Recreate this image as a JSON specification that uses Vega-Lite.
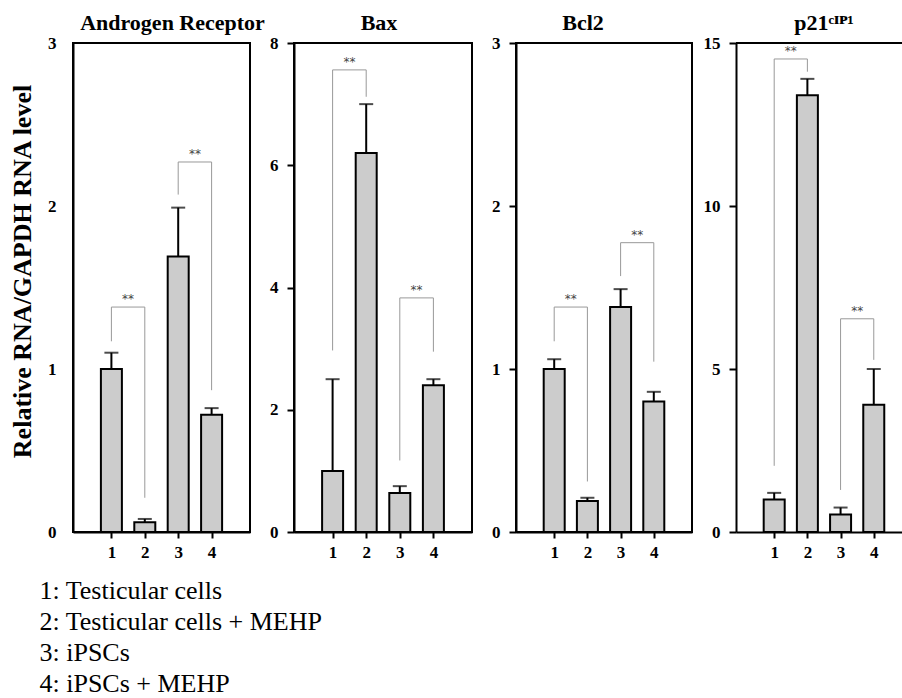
{
  "$schema": "https://vega.github.io/schema/vega-lite/v6.json",
  "background": "white",
  "padding": {"left": 8, "top": 11, "right": 0, "bottom": 0},
  "bounds": "flush",
  "spacing": 44,
  "title": {
    "text": ["1: Testicular cells", "2: Testicular cells + MEHP", "3: iPSCs", "4: iPSCs + MEHP"],
    "orient": "bottom",
    "anchor": "start",
    "font": "Liberation Serif",
    "fontSize": 26,
    "fontWeight": "normal",
    "lineHeight": 31,
    "offset": 17,
    "dx": 31,
    "color": "black"
  },
  "datasets": {
    "bars": [
      {"panel": "AR", "g": 1, "value": 1.0, "upper": 1.10},
      {"panel": "AR", "g": 2, "value": 0.06, "upper": 0.08},
      {"panel": "AR", "g": 3, "value": 1.69, "upper": 1.99},
      {"panel": "AR", "g": 4, "value": 0.72, "upper": 0.76},
      {"panel": "Bax", "g": 1, "value": 1.0, "upper": 2.5},
      {"panel": "Bax", "g": 2, "value": 6.2, "upper": 7.0},
      {"panel": "Bax", "g": 3, "value": 0.64, "upper": 0.75},
      {"panel": "Bax", "g": 4, "value": 2.4, "upper": 2.5},
      {"panel": "Bcl2", "g": 1, "value": 1.0, "upper": 1.06},
      {"panel": "Bcl2", "g": 2, "value": 0.19, "upper": 0.21},
      {"panel": "Bcl2", "g": 3, "value": 1.38, "upper": 1.49},
      {"panel": "Bcl2", "g": 4, "value": 0.80, "upper": 0.86},
      {"panel": "p21", "g": 1, "value": 1.0, "upper": 1.2},
      {"panel": "p21", "g": 2, "value": 13.4, "upper": 13.9},
      {"panel": "p21", "g": 3, "value": 0.54, "upper": 0.75},
      {"panel": "p21", "g": 4, "value": 3.9, "upper": 5.0}
    ],
    "sig": [
      {"panel": "AR", "g1": 1, "g2": 2, "mid": 1.5, "top": 1.38, "lowL": 1.17, "lowR": 0.21, "label": "**"},
      {"panel": "AR", "g1": 3, "g2": 4, "mid": 3.5, "top": 2.27, "lowL": 2.07, "lowR": 0.87, "label": "**"},
      {"panel": "Bax", "g1": 1, "g2": 2, "mid": 1.5, "top": 7.56, "lowL": 2.97, "lowR": 7.12, "label": "**"},
      {"panel": "Bax", "g1": 3, "g2": 4, "mid": 3.5, "top": 3.83, "lowL": 1.17, "lowR": 2.95, "label": "**"},
      {"panel": "Bcl2", "g1": 1, "g2": 2, "mid": 1.5, "top": 1.38, "lowL": 1.17, "lowR": 0.31, "label": "**"},
      {"panel": "Bcl2", "g1": 3, "g2": 4, "mid": 3.5, "top": 1.775, "lowL": 1.57, "lowR": 1.045, "label": "**"},
      {"panel": "p21", "g1": 1, "g2": 2, "mid": 1.5, "top": 14.51, "lowL": 2.03, "lowR": 14.12, "label": "**"},
      {"panel": "p21", "g1": 3, "g2": 4, "mid": 3.5, "top": 6.54, "lowL": 1.29, "lowR": 5.28, "label": "**"}
    ]
  },
  "hconcat": [
    {
      "width": 177, "height": 489,
      "title": {"text": "Androgen Receptor", "dx": 11, "offset": -1},
      "layer": [
        {
          "data": {"name": "bars"},
          "transform": [{"filter": "datum.panel === 'AR'"}],
          "layer": [
            {"mark": {"type": "bar", "width": 21, "fill": "#cccccc", "stroke": "black", "strokeWidth": 2},
             "encoding": {
               "x": {"field": "g", "type": "quantitative", "scale": {"domain": [0, 5], "nice": false}, "axis": {"values": [1, 2, 3, 4], "title": null, "tickSize": 6, "labelPadding": 6}},
               "y": {"field": "value", "type": "quantitative", "scale": {"domain": [0, 3], "nice": false}, "axis": {"values": [0, 1, 2, 3], "format": "d", "ticks": false, "labelPadding": 17, "title": "Relative RNA/GAPDH RNA level", "titleFontSize": 26, "titlePadding": 12, "titleY": 228}}
             }},
            {"mark": {"type": "rule", "strokeWidth": 2, "color": "black"},
             "encoding": {"x": {"field": "g", "type": "quantitative"}, "y": {"field": "value", "type": "quantitative"}, "y2": {"field": "upper"}}},
            {"mark": {"type": "tick", "orient": "horizontal", "size": 14, "thickness": 2, "color": "black"},
             "encoding": {"x": {"field": "g", "type": "quantitative"}, "y": {"field": "upper", "type": "quantitative"}}}
          ]
        },
        {
          "data": {"name": "sig"},
          "transform": [{"filter": "datum.panel === 'AR'"}],
          "layer": [
            {"mark": {"type": "rule", "color": "#999999", "strokeWidth": 1}, "encoding": {"x": {"field": "g1", "type": "quantitative"}, "x2": {"field": "g2"}, "y": {"field": "top", "type": "quantitative"}}},
            {"mark": {"type": "rule", "color": "#999999", "strokeWidth": 1}, "encoding": {"x": {"field": "g1", "type": "quantitative"}, "y": {"field": "lowL", "type": "quantitative"}, "y2": {"field": "top"}}},
            {"mark": {"type": "rule", "color": "#999999", "strokeWidth": 1}, "encoding": {"x": {"field": "g2", "type": "quantitative"}, "y": {"field": "lowR", "type": "quantitative"}, "y2": {"field": "top"}}},
            {"mark": {"type": "text", "color": "#444444", "font": "DejaVu Sans", "fontSize": 12, "baseline": "bottom", "dy": -1}, "encoding": {"x": {"field": "mid", "type": "quantitative"}, "y": {"field": "top", "type": "quantitative"}, "text": {"field": "label"}}}
          ]
        }
      ]
    },
    {
      "width": 178, "height": 489,
      "title": {"text": "Bax", "dx": -4, "offset": -1},
      "layer": [
        {
          "data": {"name": "bars"},
          "transform": [{"filter": "datum.panel === 'Bax'"}],
          "layer": [
            {"mark": {"type": "bar", "width": 21, "fill": "#cccccc", "stroke": "black", "strokeWidth": 2},
             "encoding": {
               "x": {"field": "g", "type": "quantitative", "scale": {"domain": [0, 5], "nice": false}, "axis": {"values": [1, 2, 3, 4], "title": null, "tickSize": 6, "labelPadding": 6}},
               "y": {"field": "value", "type": "quantitative", "scale": {"domain": [0, 8], "nice": false}, "axis": {"values": [0, 2, 4, 6, 8], "format": "d", "tickSize": 7, "labelPadding": 9, "title": null}}
             }},
            {"mark": {"type": "rule", "strokeWidth": 2, "color": "black"},
             "encoding": {"x": {"field": "g", "type": "quantitative"}, "y": {"field": "value", "type": "quantitative"}, "y2": {"field": "upper"}}},
            {"mark": {"type": "tick", "orient": "horizontal", "size": 14, "thickness": 2, "color": "black"},
             "encoding": {"x": {"field": "g", "type": "quantitative"}, "y": {"field": "upper", "type": "quantitative"}}}
          ]
        },
        {
          "data": {"name": "sig"},
          "transform": [{"filter": "datum.panel === 'Bax'"}],
          "layer": [
            {"mark": {"type": "rule", "color": "#999999", "strokeWidth": 1}, "encoding": {"x": {"field": "g1", "type": "quantitative"}, "x2": {"field": "g2"}, "y": {"field": "top", "type": "quantitative"}}},
            {"mark": {"type": "rule", "color": "#999999", "strokeWidth": 1}, "encoding": {"x": {"field": "g1", "type": "quantitative"}, "y": {"field": "lowL", "type": "quantitative"}, "y2": {"field": "top"}}},
            {"mark": {"type": "rule", "color": "#999999", "strokeWidth": 1}, "encoding": {"x": {"field": "g2", "type": "quantitative"}, "y": {"field": "lowR", "type": "quantitative"}, "y2": {"field": "top"}}},
            {"mark": {"type": "text", "color": "#444444", "font": "DejaVu Sans", "fontSize": 12, "baseline": "bottom", "dy": -1}, "encoding": {"x": {"field": "mid", "type": "quantitative"}, "y": {"field": "top", "type": "quantitative"}, "text": {"field": "label"}}}
          ]
        }
      ]
    },
    {
      "width": 176, "height": 489,
      "title": {"text": "Bcl2", "dx": -21, "offset": -1},
      "layer": [
        {
          "data": {"name": "bars"},
          "transform": [{"filter": "datum.panel === 'Bcl2'"}],
          "layer": [
            {"mark": {"type": "bar", "width": 21, "fill": "#cccccc", "stroke": "black", "strokeWidth": 2},
             "encoding": {
               "x": {"field": "g", "type": "quantitative", "scale": {"domain": [0, 5], "nice": false}, "axis": {"values": [1, 2, 3, 4], "title": null, "tickSize": 6, "labelPadding": 6}},
               "y": {"field": "value", "type": "quantitative", "scale": {"domain": [0, 3], "nice": false}, "axis": {"values": [0, 1, 2, 3], "format": "d", "tickSize": 7, "labelPadding": 9, "title": null}}
             }},
            {"mark": {"type": "rule", "strokeWidth": 2, "color": "black"},
             "encoding": {"x": {"field": "g", "type": "quantitative"}, "y": {"field": "value", "type": "quantitative"}, "y2": {"field": "upper"}}},
            {"mark": {"type": "tick", "orient": "horizontal", "size": 14, "thickness": 2, "color": "black"},
             "encoding": {"x": {"field": "g", "type": "quantitative"}, "y": {"field": "upper", "type": "quantitative"}}}
          ]
        },
        {
          "data": {"name": "sig"},
          "transform": [{"filter": "datum.panel === 'Bcl2'"}],
          "layer": [
            {"mark": {"type": "rule", "color": "#999999", "strokeWidth": 1}, "encoding": {"x": {"field": "g1", "type": "quantitative"}, "x2": {"field": "g2"}, "y": {"field": "top", "type": "quantitative"}}},
            {"mark": {"type": "rule", "color": "#999999", "strokeWidth": 1}, "encoding": {"x": {"field": "g1", "type": "quantitative"}, "y": {"field": "lowL", "type": "quantitative"}, "y2": {"field": "top"}}},
            {"mark": {"type": "rule", "color": "#999999", "strokeWidth": 1}, "encoding": {"x": {"field": "g2", "type": "quantitative"}, "y": {"field": "lowR", "type": "quantitative"}, "y2": {"field": "top"}}},
            {"mark": {"type": "text", "color": "#444444", "font": "DejaVu Sans", "fontSize": 12, "baseline": "bottom", "dy": -1}, "encoding": {"x": {"field": "mid", "type": "quantitative"}, "y": {"field": "top", "type": "quantitative"}, "text": {"field": "label"}}}
          ]
        }
      ]
    },
    {
      "width": 166, "height": 489,
      "view": {"stroke": null},
      "title": {"text": "p21ᶜᴵᴾ¹", "dx": 5, "offset": -1},
      "layer": [
        {
          "data": {"name": "bars"},
          "transform": [{"filter": "datum.panel === 'p21'"}],
          "layer": [
            {"mark": {"type": "bar", "width": 21, "fill": "#cccccc", "stroke": "black", "strokeWidth": 2},
             "encoding": {
               "x": {"field": "g", "type": "quantitative", "scale": {"domain": [0, 4.7], "nice": false}, "axis": {"values": [1, 2, 3, 4], "title": null, "tickSize": 6, "labelPadding": 6}},
               "y": {"field": "value", "type": "quantitative", "scale": {"domain": [0, 15], "nice": false}, "axis": {"values": [0, 5, 10, 15], "format": "d", "tickSize": 7, "labelPadding": 9, "title": null}}
             }},
            {"mark": {"type": "rule", "strokeWidth": 2, "color": "black"},
             "encoding": {"x": {"field": "g", "type": "quantitative"}, "y": {"field": "value", "type": "quantitative"}, "y2": {"field": "upper"}}},
            {"mark": {"type": "tick", "orient": "horizontal", "size": 14, "thickness": 2, "color": "black"},
             "encoding": {"x": {"field": "g", "type": "quantitative"}, "y": {"field": "upper", "type": "quantitative"}}}
          ]
        },
        {
          "data": {"name": "sig"},
          "transform": [{"filter": "datum.panel === 'p21'"}],
          "layer": [
            {"mark": {"type": "rule", "color": "#999999", "strokeWidth": 1}, "encoding": {"x": {"field": "g1", "type": "quantitative"}, "x2": {"field": "g2"}, "y": {"field": "top", "type": "quantitative"}}},
            {"mark": {"type": "rule", "color": "#999999", "strokeWidth": 1}, "encoding": {"x": {"field": "g1", "type": "quantitative"}, "y": {"field": "lowL", "type": "quantitative"}, "y2": {"field": "top"}}},
            {"mark": {"type": "rule", "color": "#999999", "strokeWidth": 1}, "encoding": {"x": {"field": "g2", "type": "quantitative"}, "y": {"field": "lowR", "type": "quantitative"}, "y2": {"field": "top"}}},
            {"mark": {"type": "text", "color": "#444444", "font": "DejaVu Sans", "fontSize": 12, "baseline": "bottom", "dy": -1}, "encoding": {"x": {"field": "mid", "type": "quantitative"}, "y": {"field": "top", "type": "quantitative"}, "text": {"field": "label"}}}
          ]
        },
        {
          "data": {"values": [{}]},
          "mark": {"type": "rule", "color": "black", "strokeWidth": 2},
          "encoding": {"y": {"datum": 15}}
        }
      ]
    }
  ],
  "config": {
    "font": "Liberation Serif",
    "view": {"stroke": "black", "strokeWidth": 2},
    "axis": {
      "grid": false,
      "domainColor": "black", "domainWidth": 2,
      "tickColor": "black", "tickWidth": 2,
      "labelFont": "Liberation Serif", "labelFontWeight": "bold", "labelFontSize": 17, "labelColor": "black",
      "titleFont": "Liberation Serif", "titleFontWeight": "bold", "titleColor": "black"
    },
    "title": {"font": "Liberation Serif", "fontWeight": "bold", "fontSize": 22, "color": "black"}
  }
}
